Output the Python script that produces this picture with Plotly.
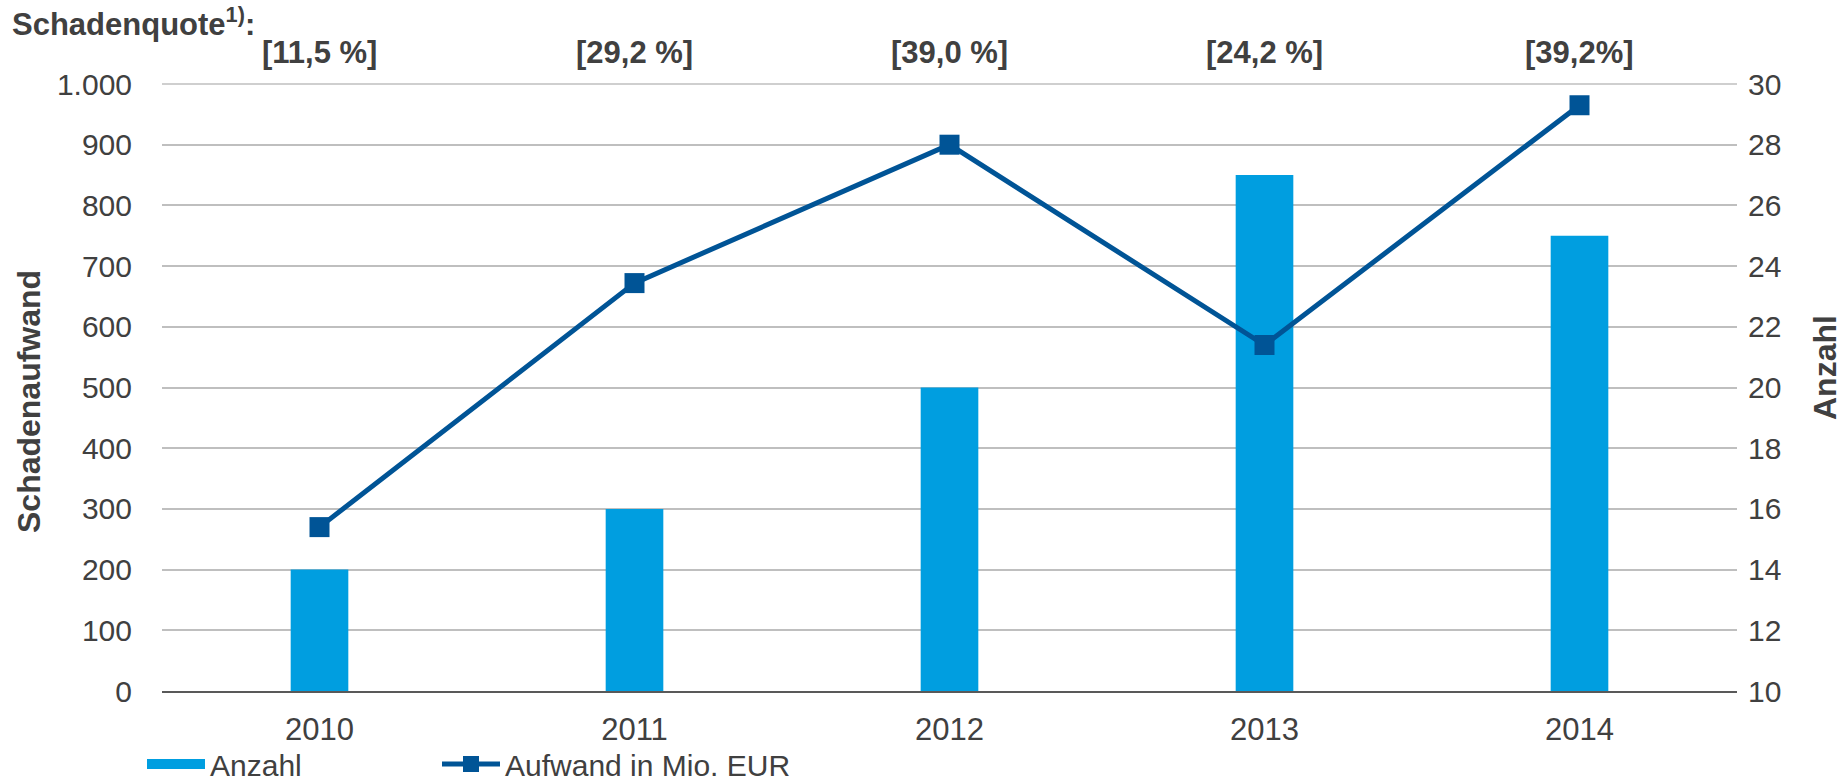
import plotly.graph_objects as go

years = ["2010", "2011", "2012", "2013", "2014"]
anzahl = [14, 16, 20, 27, 25]
aufwand = [270, 672, 900, 570, 965]
quoten = ["[11,5 %]", "[29,2 %]", "[39,0 %]", "[24,2 %]", "[39,2%]"]

FONT = "Liberation Sans, Arial, sans-serif"
TXT = "#404040"
BAR = "#009EE0"
LINE = "#005496"
GRID = "#BFBFBF"

L, R, T, B = 162, 106, 84, 92
PW, PH = 1843 - L - R, 783 - T - B


def px(x):
    return (x - L) / PW


def py(y):
    return (783 - B - y) / PH


fig = go.Figure()

# bars on the primary axis (shown on the right), line on the overlay so it draws on top
fig.add_trace(go.Bar(x=years, y=anzahl, name="Anzahl", marker_color=BAR,
                     marker_line_width=0, yaxis="y", showlegend=False))
# legend swatch for the bars
fig.add_trace(go.Scatter(x=[None], y=[None], mode="lines", name="Anzahl",
                         line=dict(color=BAR, width=16), legend="legend"))
fig.add_trace(go.Scatter(x=years, y=aufwand, name="Aufwand in Mio. EUR", mode="lines+markers",
                         line=dict(color=LINE, width=5),
                         marker=dict(symbol="square", size=20, color=LINE),
                         yaxis="y2", legend="legend2"))

for i, q in enumerate(quoten):
    fig.add_annotation(x=i, xref="x", y=py(52), yref="paper", text=q, showarrow=False,
                       font=dict(size=31, color=TXT, family=FONT, weight="bold"),
                       xanchor="center", yanchor="middle")

fig.add_annotation(x=px(10), xref="paper", y=py(22), yref="paper",
                   text="Schadenquote<sup>1)</sup>:", showarrow=False, xanchor="left",
                   yanchor="middle", font=dict(size=31, color=TXT, family=FONT, weight="bold"))
fig.add_annotation(x=px(29), xref="paper", y=py(402), yref="paper", text="Schadenaufwand",
                   showarrow=False, textangle=-90, xanchor="center", yanchor="middle",
                   font=dict(size=32, color=TXT, family=FONT, weight="bold"))
fig.add_annotation(x=px(1825), xref="paper", y=py(368), yref="paper", text="Anzahl",
                   showarrow=False, textangle=-90, xanchor="center", yanchor="middle",
                   font=dict(size=32, color=TXT, family=FONT, weight="bold"))

# top gridline (plotly drops the one on the plot edge)
fig.add_shape(type="line", xref="paper", yref="paper", x0=0, x1=1, y0=1, y1=1,
              line=dict(color=GRID, width=1.5), layer="below")

leg = dict(orientation="h", xanchor="left", yanchor="top", y=py(738), itemwidth=58,
           font=dict(size=30, color=TXT, family=FONT), bgcolor="rgba(0,0,0,0)")

fig.update_layout(
    width=1843, height=783,
    margin=dict(l=L, r=R, t=T, b=B, autoexpand=False),
    paper_bgcolor="white", plot_bgcolor="white",
    separators=",.",
    font=dict(family=FONT, size=30, color=TXT),
    bargap=0.817,
    showlegend=True,
    legend=dict(leg, x=px(142)),
    legend2=dict(leg, x=px(437)),
    xaxis=dict(type="category", showgrid=False, showline=True, linecolor="#595959",
               linewidth=2, ticks="", ticklabelstandoff=10,
               tickfont=dict(size=31, color=TXT), range=[-0.5, 4.5]),
    yaxis=dict(side="right", range=[10, 30], dtick=2, tick0=10, showgrid=True,
               gridcolor=GRID, gridwidth=1.5, zeroline=False, showline=False,
               ticks="", ticklabelstandoff=10, tickfont=dict(size=30, color=TXT)),
    yaxis2=dict(side="left", overlaying="y", range=[0, 1000], dtick=100, tick0=0,
                tickformat=",d", showgrid=False, zeroline=False, showline=False,
                ticks="", ticklabelstandoff=29, tickfont=dict(size=30, color=TXT)),
)

fig.write_html("out.html", config={"displayModeBar": False},
               post_script="document.body.style.margin='0';")
